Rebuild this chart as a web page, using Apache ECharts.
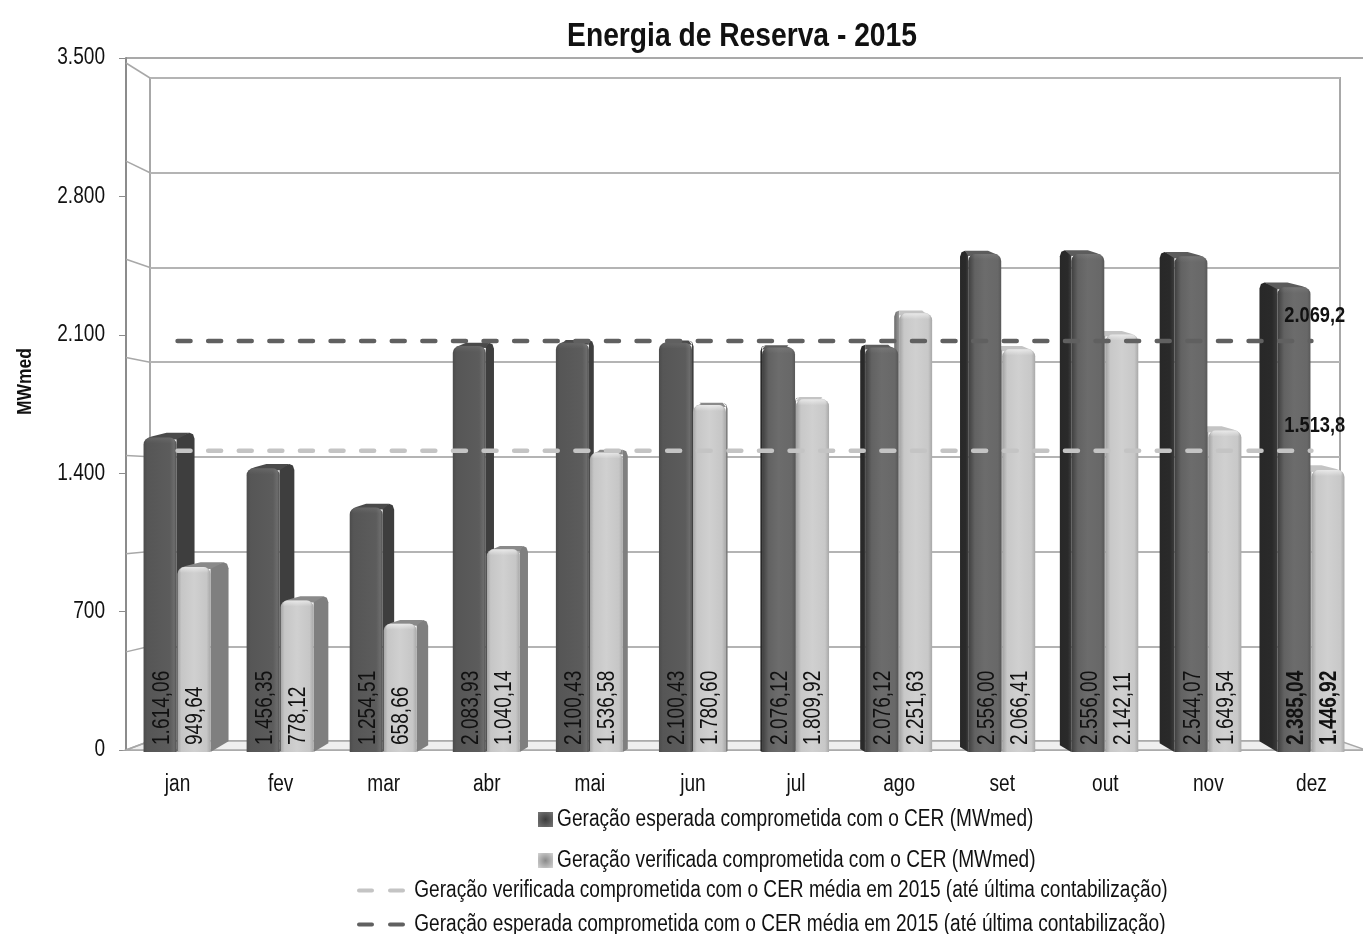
<!DOCTYPE html>
<html>
<head>
<meta charset="utf-8">
<script src="https://cdn.jsdelivr.net/npm/echarts@6/dist/echarts.min.js"></script>
<style>
html, body { margin: 0; padding: 0; background: #fff; }
#main { width: 1363px; height: 934px; }
</style>
</head>
<body>
<div id="main"></div>
<script>
var meses = ['jan', 'fev', 'mar', 'abr', 'mai', 'jun', 'jul', 'ago', 'set', 'out', 'nov', 'dez'];
var esperada = [1614.06, 1456.35, 1254.51, 2083.93, 2100.43, 2100.43, 2076.12, 2076.12, 2556.00, 2556.00, 2544.07, 2385.04];
var verificada = [949.64, 778.12, 658.66, 1040.14, 1536.58, 1780.60, 1809.92, 2251.63, 2066.41, 2142.11, 1649.54, 1446.92];
var mediaEsperada = [2069.2, 2069.2, 2069.2, 2069.2, 2069.2, 2069.2, 2069.2, 2069.2, 2069.2, 2069.2, 2069.2, 2069.2];
var mediaVerificada = [1513.8, 1513.8, 1513.8, 1513.8, 1513.8, 1513.8, 1513.8, 1513.8, 1513.8, 1513.8, 1513.8, 1513.8];
var paredeTicks = [0, 500, 1000, 1500, 2000, 2500, 3000, 3500];

var nomeEsperada = 'Geração esperada comprometida com o CER (MWmed)';
var nomeVerificada = 'Geração verificada comprometida com o CER (MWmed)';
var nomeMediaVerificada = 'Geração verificada comprometida com o CER média em 2015 (até última contabilização)';
var nomeMediaEsperada = 'Geração esperada comprometida com o CER média em 2015 (até última contabilização)';

var fonte = '"Liberation Sans", Arial, sans-serif';
var estreito = 0.83; // the reference uses a narrow type, no such font here so the text is squeezed
var myChart = echarts.init(document.getElementById('main'));

function milhar(v, casas) {
    var partes = v.toFixed(casas).split('.');
    partes[0] = partes[0].replace(/\B(?=(\d{3})+(?!\d))/g, '.');
    return partes.length > 1 ? partes[0] + ',' + partes[1] : partes[0];
}

function grad(stops) {
    return {
        type: 'linear', x: 0, y: 0, x2: 1, y2: 0,
        colorStops: stops.map(function (s) { return { offset: s[0], color: s[1] }; })
    };
}

// each bar is a front face, a side face and a top, the side flips over as the month moves right
function desenhaBarra(claro) {
    return function (params, api) {
        var i = api.value(0);
        var v = api.value(1);
        var c = api.coord([i, v]);
        var base = api.coord([i, 0])[1];
        var largura = 33;
        var x0 = claro ? c[0] : c[0] - largura - 1;
        var x1 = x0 + largura;
        var y = c[1];
        var dx = 18 - 36 * i / 11;
        var dy = 2 + Math.abs(dx) * 0.15;
        var recuo = Math.abs(dx) * 0.6;
        var lado, topo, corLado, corTopo, corFrente;

        if (dx >= 0) {
            lado = [[x1, base], [x1, y], [x1 + dx - 5, y - dy], [x1 + dx - 1.5, y - dy + 1.5], [x1 + dx, y - dy + 6], [x1 + dx, base - recuo]];
            topo = [[x0 + 3, y + 1], [x0 + 8, y - 1], [x0 + dx + 5, y - dy], [x1 + dx - 5, y - dy], [x1, y + 2]];
            corLado = claro ? '#7f7f7f' : '#3e3e3e';
            corTopo = claro ? '#8a8a8a' : '#4a4a4a';
            corFrente = claro
                ? grad([[0, '#a5a5a5'], [0.12, '#c6c6c6'], [0.5, '#d0d0d0'], [0.88, '#c6c6c6'], [1, '#a8a8a8']])
                : grad([[0, '#4c4c4c'], [0.12, '#565656'], [0.8, '#5c5c5c'], [0.93, '#6c6c6c'], [1, '#4e4e4e']]);
        } else {
            lado = [[x0, base], [x0, y], [x0 + dx + 5, y - dy], [x0 + dx + 1.5, y - dy + 1.5], [x0 + dx, y - dy + 6], [x0 + dx, base - recuo]];
            topo = [[x1 - 3, y + 1], [x1 - 8, y - 1], [x1 + dx - 5, y - dy], [x0 + dx + 5, y - dy], [x0, y + 2]];
            corLado = claro ? grad([[0, '#6a6a6a'], [1, '#9a9a9a']]) : grad([[0, '#282828'], [0.7, '#2a2a2a'], [1, '#3c3c3c']]);
            corTopo = claro ? '#c4c4c4' : '#5c5c5c';
            corFrente = claro
                ? grad([[0, '#a0a0a0'], [0.15, '#c8c8c8'], [0.5, '#d0d0d0'], [0.88, '#c8c8c8'], [1, '#a8a8a8']])
                : grad([[0, '#3e3e3e'], [0.2, '#626262'], [0.5, '#6c6c6c'], [0.9, '#686868'], [1, '#585858']]);
        }

        // the bar nearer the viewer goes on top: light ones on the left half, dark ones on the right
        var ordem = claro ? 20 : (dx >= 0 ? 10 : 30);
        var filhos = [
            { type: 'polygon', z2: ordem, shape: { points: lado }, style: { fill: corLado } },
            { type: 'polygon', z2: ordem, shape: { points: topo }, style: { fill: corTopo } },
            { type: 'rect', z2: ordem + 1, shape: { x: x0, y: y, width: largura, height: base - y, r: [7, 7, 0, 0] }, style: { fill: corFrente } },
            {
                type: 'rect',
                z2: ordem + 2,
                shape: { x: x0 + 2, y: y, width: largura - 4, height: 6, r: [5, 5, 0, 0] },
                style: {
                    fill: {
                        type: 'linear', x: 0, y: 0, x2: 0, y2: 1,
                        colorStops: [
                            { offset: 0, color: claro ? 'rgba(255,255,255,0.55)' : 'rgba(255,255,255,0.08)' },
                            { offset: 1, color: 'rgba(255,255,255,0)' }
                        ]
                    }
                }
            },
            {
                type: 'text',
                z2: 50,
                x: claro ? c[0] + 18 : c[0] - 15,
                y: base - 7,
                rotation: Math.PI / 2,
                style: {
                    text: milhar(v, 2),
                    textAlign: 'left',
                    textVerticalAlign: 'middle',
                    fill: '#111',
                    font: (i === 11 ? 'bold ' : '') + '23px ' + fonte
                }
            }
        ];
        return { type: 'group', children: filhos };
    };
}

// side wall, floor and top edge of the 3D box, tied to the front axis and the back wall axis
function desenhaCaixa(params, api) {
    var v = api.value(0);
    var frente = api.coord([0, v]);
    var fundoY = myChart.convertToPixel({ yAxisIndex: 2 }, v);
    var cs = params.coordSys;
    var fundoX = 150;
    var cor = '#a8a8a8';
    var filhos = [
        { type: 'line', shape: { x1: cs.x, y1: frente[1] + 5 * v / 3500, x2: fundoX, y2: fundoY }, style: { stroke: cor, lineWidth: 1.5 } }
    ];
    if (v === 0) {
        filhos.unshift({
            type: 'polygon',
            shape: { points: [[cs.x, frente[1]], [fundoX, fundoY], [1340, fundoY], [1366, frente[1]]] },
            style: { fill: '#efefef', stroke: '#a8a8a8', lineWidth: 1.5 }
        });
    }
    if (v === 3500) {
        filhos.push({ type: 'line', shape: { x1: cs.x, y1: frente[1], x2: cs.x + cs.width, y2: frente[1] }, style: { stroke: '#8c8c8c', lineWidth: 1.5 } });
    }
    return { type: 'group', children: filhos };
}

function pares(valores) {
    return valores.map(function (v, i) { return [i, v]; });
}

function legenda(nome, esquerda, topo, largura, altura, item, icone, folga) {
    return {
        data: [item ? { name: nome, itemStyle: item } : nome],
        left: esquerda,
        top: topo,
        padding: 0,
        icon: icone,
        itemWidth: largura,
        itemHeight: altura,
        selectedMode: false,
        textStyle: { fontFamily: fonte, fontSize: 23, color: '#111', padding: [0, 0, 0, folga] }
    };
}

function rotuloFinal(valores) {
    return {
        show: true,
        align: 'center',
        verticalAlign: 'middle',
        distance: 0,
        offset: [4, -25],
        fontFamily: fonte, fontSize: 22, fontWeight: 'bold', color: '#111',
        formatter: function () { return milhar(valores[valores.length - 1], 1); }
    };
}

var iconeEscuro = {
    color: { type: 'radial', x: 0.5, y: 0.5, r: 0.7, colorStops: [{ offset: 0, color: '#3c3c3c' }, { offset: 1, color: '#777' }] }
};
var iconeClaro = {
    color: { type: 'radial', x: 0.5, y: 0.5, r: 0.7, colorStops: [{ offset: 0, color: '#8a8a8a' }, { offset: 1, color: '#d4d4d4' }] }
};
var iconeTracos = 'path://M2 0H15A2 2 0 0 1 15 4H2A2 2 0 0 1 2 0ZM33 0H46A2 2 0 0 1 46 4H33A2 2 0 0 1 33 0Z';

var option = {
    animation: false,
    backgroundColor: '#fff',
    title: {
        text: 'Energia de Reserva - 2015',
        left: 737,
        textAlign: 'center',
        top: 15,
        textStyle: { fontFamily: fonte, fontSize: 34, fontWeight: 'bold', color: '#111' }
    },
    legend: [
        legenda(nomeEsperada, 538, 808, 15, 15, iconeEscuro, 'rect', 3),
        legenda(nomeVerificada, 538, 849, 15, 15, iconeClaro, 'rect', 3),
        legenda(nomeMediaVerificada, 357, 879, 48, 5, null, iconeTracos, 16),
        legenda(nomeMediaEsperada, 357, 913, 48, 5, null, iconeTracos, 16)
    ],
    grid: [
        { left: 126, top: 58, width: 1240, height: 692 },
        { left: 126, top: 70, width: 1240, height: 682 },
        { left: 150, top: 78, width: 1190, height: 663, show: true, borderColor: '#a8a8a8', borderWidth: 2, backgroundColor: 'transparent' }
    ],
    xAxis: [
        {
            type: 'category', gridIndex: 0, data: meses, offset: 4,
            axisLine: { lineStyle: { color: '#a0a0a0', width: 1.5 } },
            axisTick: { length: 5, lineStyle: { color: '#8c8c8c' } },
            axisLabel: { fontFamily: fonte, fontSize: 23, color: '#111', margin: 19 }
        },
        { type: 'category', gridIndex: 1, data: meses, show: false },
        { type: 'category', gridIndex: 2, data: meses, show: false }
    ],
    yAxis: [
        {
            type: 'value', gridIndex: 0, min: 0, max: 3500, interval: 700,
            name: 'MWmed', nameLocation: 'middle', nameGap: 90, nameRotate: 90,
            nameTextStyle: { fontFamily: fonte, fontSize: 21, fontWeight: 'bold', color: '#111', padding: [0, 0, 0, 54] },
            axisLine: { show: true, lineStyle: { color: '#8c8c8c', width: 2 } },
            axisTick: { show: true, length: 7, lineStyle: { color: '#8c8c8c' } },
            splitLine: { show: false },
            axisLabel: {
                fontFamily: fonte, fontSize: 23, color: '#111', margin: 21, padding: [5, 0, 0, 0],
                formatter: function (v) { return milhar(v, 0); }
            }
        },
        { type: 'value', gridIndex: 1, min: 0, max: 3500, show: false, splitLine: { show: false } },
        {
            type: 'value', gridIndex: 2, min: 0, max: 3500, interval: 500,
            axisLine: { show: false }, axisTick: { show: false }, axisLabel: { show: false },
            splitLine: { show: true, lineStyle: { color: '#b4b4b4', width: 2 } }
        }
    ],
    series: [
        {
            type: 'custom', name: 'caixa', xAxisIndex: 0, yAxisIndex: 0, z: 1, silent: true, clip: false,
            renderItem: desenhaCaixa,
            data: paredeTicks.map(function (v) { return [v]; }),
            encode: { y: 0 }
        },
        {
            type: 'custom', name: nomeEsperada, xAxisIndex: 1, yAxisIndex: 1, z: 2, clip: false,
            renderItem: desenhaBarra(false),
            itemStyle: { color: '#555' },
            encode: { x: 0, y: 1 },
            data: pares(esperada)
        },
        {
            type: 'custom', name: nomeVerificada, xAxisIndex: 1, yAxisIndex: 1, z: 2, clip: false,
            renderItem: desenhaBarra(true),
            itemStyle: { color: '#c8c8c8' },
            encode: { x: 0, y: 1 },
            data: pares(verificada)
        },
        {
            type: 'line', name: nomeMediaVerificada, xAxisIndex: 0, yAxisIndex: 0, z: 4,
            data: mediaVerificada, symbol: 'none', color: '#c4c4c4',
            lineStyle: { color: '#c4c4c4', width: 4.5, type: [13, 17.6], cap: 'round' },
            endLabel: rotuloFinal(mediaVerificada)
        },
        {
            type: 'line', name: nomeMediaEsperada, xAxisIndex: 0, yAxisIndex: 0, z: 4,
            data: mediaEsperada, symbol: 'none', color: '#606060',
            lineStyle: { color: '#606060', width: 4.5, type: [13, 17.6], cap: 'round' },
            endLabel: rotuloFinal(mediaEsperada)
        }
    ]
};

myChart.setOption(option);

// squeeze every text element once the chart has laid them out
var zr = myChart.getZr();
zr.refreshImmediately();
zr.storage.getDisplayList(true, true).forEach(function (el) {
    if (el.type === 'tspan' && el.parent && !el.parent.__estreito) {
        el.parent.__estreito = true;
        el.parent.scaleX = estreito;
        el.parent.markRedraw();
    }
});
zr.refreshImmediately();
</script>
</body>
</html>
